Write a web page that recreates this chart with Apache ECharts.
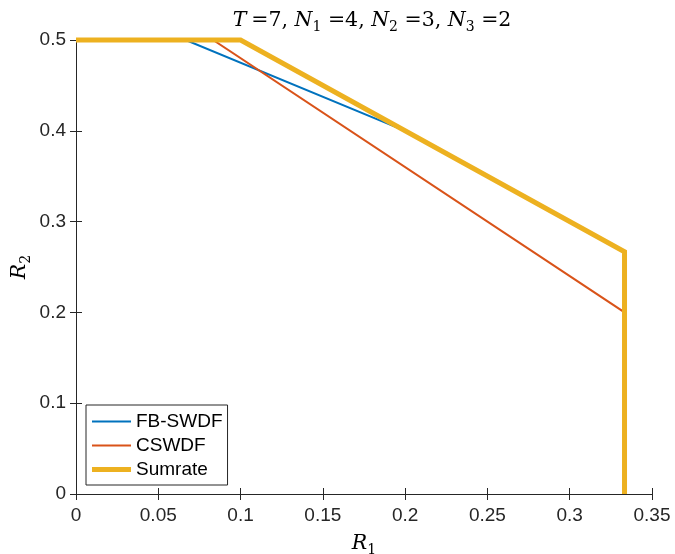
<!DOCTYPE html>
<html>
<head>
<meta charset="utf-8">
<script src="https://cdn.jsdelivr.net/npm/echarts@6/dist/echarts.min.js"></script>
<style>
  html, body { margin: 0; padding: 0; background: #fff; }
  #chart { width: 675px; height: 554px; }
</style>
</head>
<body>
<div id="chart"></div>
<script>
// Rate-region boundaries (R1, R2) for each scheme
const fbR1 = [0, 0.0667, 0.2, 0.3333, 0.3333];
const fbR2 = [0.5, 0.5, 0.4, 0.2667, 0];
const csR1 = [0, 0.0833, 0.3333, 0.3333];
const csR2 = [0.5, 0.5, 0.2, 0];
const sumR1 = [0, 0.1, 0.3333, 0.3333];
const sumR2 = [0.5, 0.5, 0.2667, 0];

const seriesNames = ['FB-SWDF', 'CSWDF', 'Sumrate'];
const seriesColors = ['#0072BD', '#D95319', '#EDB120'];
const seriesWidths = [2, 2, 5];

const xTicks = { min: 0, max: 0.35, interval: 0.05 };
const yTicks = { min: 0, max: 0.5, interval: 0.1 };

const pairs = (xs, ys) => xs.map((x, i) => [x, ys[i]]);
const allData = [pairs(fbR1, fbR2), pairs(csR1, csR2), pairs(sumR1, sumR2)];

const axisColor = '#262626';
const labelFont = 'Liberation Sans, Arial, Helvetica, sans-serif';
const mathFont = 'DejaVu Serif, Liberation Serif, serif';

function baseAxis(cfg, extra) {
  return Object.assign({
    type: 'value',
    min: cfg.min, max: cfg.max, interval: cfg.interval,
    axisLine: { show: true, lineStyle: { color: axisColor, width: 1 } },
    axisTick: { show: true, inside: true, length: 6, lineStyle: { color: axisColor } },
    splitLine: { show: false },
    axisLabel: { show: false }
  }, extra);
}

// legend key: a plain horizontal stroke as thick as the series line
function lineIcon(w) {
  return 'path://M0,0L39,0L39,' + w + 'L0,' + w + 'Z';
}

const chart = echarts.init(document.getElementById('chart'), null, { renderer: 'canvas' });

function mathRich(size) {
  return {
    i: { fontFamily: mathFont, fontStyle: 'italic', fontWeight: 'normal', fontSize: size, color: '#000', lineHeight: 24 },
    n: { fontFamily: mathFont, fontWeight: 'normal', fontSize: size, color: '#000', lineHeight: 24 },
    s: { fontFamily: mathFont, fontWeight: 'normal', fontSize: Math.round(size * 0.7), color: '#000', padding: [12, 0, 0, 0], lineHeight: 24 }
  };
}

chart.setOption({
  animation: false,
  backgroundColor: '#fff',
  title: {
    text: '{i|T} {n|=7, }{i|N}{s|1}{n| =4, }{i|N}{s|2}{n| =3, }{i|N}{s|3}{n| =2}',
    left: 367, top: 4, textAlign: 'center',
    textStyle: { fontWeight: 'normal', rich: mathRich(20.5) }
  },
  grid: { left: 76, right: 23, top: 40, bottom: 60, containLabel: false, outerBoundsMode: 'none' },
  legend: {
    data: seriesNames.map((n, k) => ({ name: n, icon: lineIcon(seriesWidths[k]) })),
    orient: 'vertical',
    left: 86, top: 405,
    padding: [7, 5, 6, 6],
    itemWidth: 39, itemHeight: 14, itemGap: 5,
    borderColor: axisColor, borderWidth: 1, borderRadius: 0,
    backgroundColor: '#fff',
    textStyle: { fontFamily: labelFont, fontSize: 19, lineHeight: 16, color: '#000' }
  },
  xAxis: [
    baseAxis(xTicks, {
      position: 'bottom',
      axisLabel: { show: true, fontFamily: labelFont, fontSize: 19, color: axisColor, margin: 12 },
      name: '{i|R}{s|1}',
      nameLocation: 'middle', nameGap: 38, nameMoveOverlap: false,
      nameTextStyle: { rich: mathRich(20.5) }
    }),
    baseAxis(xTicks, { position: 'top' })
  ],
  yAxis: [
    baseAxis(yTicks, {
      position: 'left',
      axisLabel: { show: true, fontFamily: labelFont, fontSize: 19, color: axisColor, margin: 10 },
      name: '{i|R}{s|2}',
      nameLocation: 'middle', nameGap: 44, nameRotate: 90, nameMoveOverlap: false,
      nameTextStyle: { rich: mathRich(20.5) }
    }),
    baseAxis(yTicks, { position: 'right' })
  ],
  series: allData.map((d, k) => ({
    name: seriesNames[k],
    type: 'line',
    data: d,
    showSymbol: false,
    symbol: 'none',
    clip: false,
    z: 2 + k,
    color: seriesColors[k],
    lineStyle: { color: seriesColors[k], width: seriesWidths[k], cap: 'butt', join: 'miter' }
  }))
});
</script>
</body>
</html>
